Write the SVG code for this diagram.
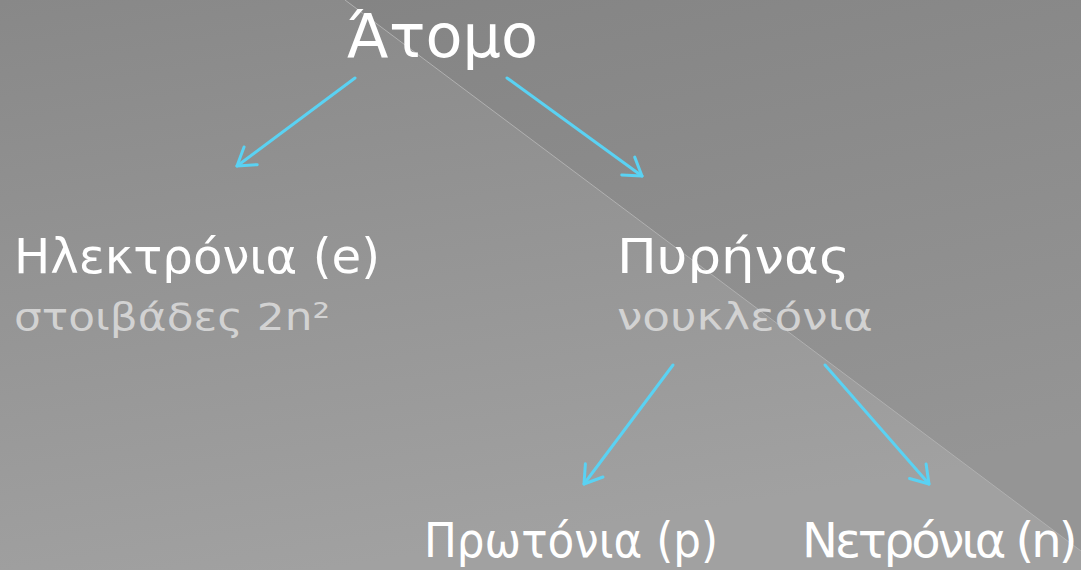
<svg xmlns="http://www.w3.org/2000/svg" width="1081" height="570" viewBox="0 0 1081 570">
  <defs>
    <linearGradient id="bg" x1="0" y1="0" x2="0.3" y2="1">
      <stop offset="0" stop-color="#888888"/>
      <stop offset="1" stop-color="#a1a1a1"/>
    </linearGradient>
    <linearGradient id="tri" x1="0" y1="0" x2="0.3" y2="1">
      <stop offset="0" stop-color="#848484"/>
      <stop offset="1" stop-color="#959595"/>
    </linearGradient>
    <marker id="arr" viewBox="-22 -13 26 26" markerWidth="26" markerHeight="26" refX="0" refY="0" orient="auto" markerUnits="userSpaceOnUse">
      <path d="M-17,-11 L0,0 L-17,11" fill="none" stroke="#5ad2f3" stroke-width="3" stroke-linecap="round" stroke-linejoin="round"/>
    </marker>
  </defs>
  <style>
    .t { font-family: "DejaVu Sans", "Noto Sans", sans-serif; fill: #ffffff; }
    .main { font-size: 48px; }
    .title { font-size: 60px; }
    .sub { font-size: 37px; fill: #d2d2d2; }
    .tight { letter-spacing: -3px; }
    .conn { stroke: #5ad2f3; stroke-width: 3; fill: none; stroke-linecap: round; marker-end: url(#arr); }
  </style>
  <rect x="0" y="0" width="1081" height="570" fill="url(#bg)"/>
  <polygon points="345,0 1081,0 1081,551" fill="url(#tri)"/>
  <line x1="345" y1="0" x2="1081" y2="551" stroke="#b0b0b0" stroke-width="1"/>

  <g id="connectors">
    <line class="conn" x1="355" y1="78" x2="237" y2="166"/>
    <line class="conn" x1="507" y1="78" x2="642" y2="176"/>
    <line class="conn" x1="673" y1="365" x2="584" y2="484"/>
    <line class="conn" x1="825" y1="365" x2="929" y2="484"/>
  </g>

  <g id="atomo">
    <text class="t title" x="347" y="57" textLength="191" lengthAdjust="spacingAndGlyphs">Άτομο</text>
  </g>
  <g id="ilektronia">
    <text class="t main" x="14" y="273" textLength="366" lengthAdjust="spacingAndGlyphs">Ηλεκτρόνια (e)</text>
    <text class="t sub" x="14" y="330" textLength="316" lengthAdjust="spacingAndGlyphs">στοιβάδες 2n²</text>
  </g>
  <g id="pyrinas">
    <text class="t main" x="617" y="273" textLength="233" lengthAdjust="spacingAndGlyphs">Πυρήνας</text>
    <text class="t sub" x="617" y="330" textLength="256" lengthAdjust="spacingAndGlyphs">νουκλεόνια</text>
  </g>
  <g id="protonia">
    <text class="t main" x="424" y="557" textLength="294" lengthAdjust="spacingAndGlyphs">Πρωτόνια (p)</text>
  </g>
  <g id="netronia">
    <text class="t main tight" x="802" y="557">Νετρόνια (n)</text>
  </g>
</svg>
